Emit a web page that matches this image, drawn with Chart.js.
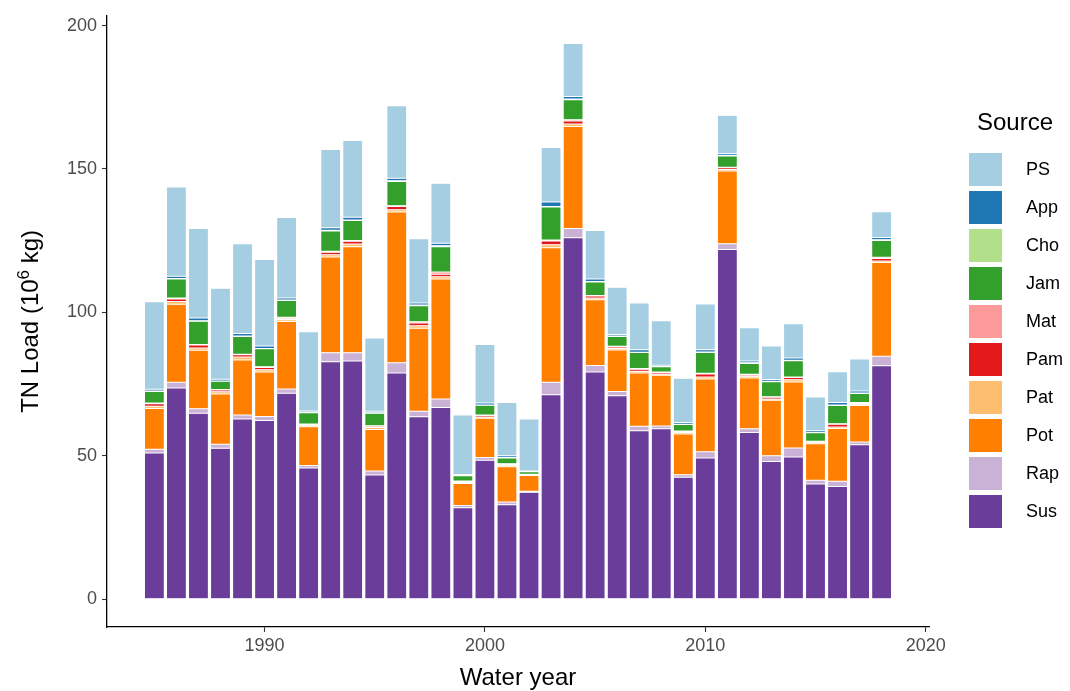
<!DOCTYPE html>
<html><head><meta charset="utf-8">
<script src="https://cdn.jsdelivr.net/npm/chart.js@4/dist/chart.umd.min.js"></script>
<style>html,body{margin:0;padding:0;background:#fff}#wrap{width:1070px;height:691px;position:relative}</style>
</head><body><div id="wrap"><canvas id="c" width="1070" height="691"></canvas></div>
<script>
const years = [1985,1986,1987,1988,1989,1990,1991,1992,1993,1994,1995,1996,1997,1998,1999,2000,2001,2002,2003,2004,2005,2006,2007,2008,2009,2010,2011,2012,2013,2014,2015,2016,2017,2018];
const sus = [51.0,73.6,64.8,52.6,62.8,62.3,71.8,45.7,82.8,83.0,43.3,78.9,63.6,66.8,31.9,48.4,32.9,37.3,71.3,126.0,79.2,70.9,58.7,59.4,42.5,49.2,121.9,58.1,48.0,49.6,40.2,39.3,53.8,81.4];
const rap = [1.3,2.0,1.6,1.4,1.4,1.4,1.5,0.9,3.1,2.9,1.4,3.5,1.9,3.0,0.8,1.0,1.0,0.3,4.3,3.2,2.3,1.5,1.6,1.0,0.9,2.2,2.0,1.3,2.0,3.1,1.3,1.8,1.0,3.3];
const pot = [14.2,27.2,20.4,17.5,19.2,15.5,23.5,13.5,33.4,37.0,14.5,52.6,29.0,41.8,7.6,13.7,12.3,5.5,46.9,35.6,22.9,14.5,18.6,17.7,14.2,25.4,25.4,17.7,19.4,23.0,12.7,18.4,12.7,32.7];
const pat = [0.8,1.0,0.8,0.8,1.0,0.8,0.6,0.5,0.8,0.9,0.7,0.8,0.8,0.8,0.4,0.4,0.5,0.3,1.1,0.9,0.6,0.5,0.6,0.4,0.5,0.7,0.5,0.6,0.4,0.8,0.5,0.5,0.5,0.5];
const pam = [0.8,0.9,1.0,0.6,0.8,0.8,0.4,0.3,0.9,1.0,0.4,1.1,1.0,0.9,0.3,0.5,0.3,0.1,1.3,1.0,0.7,0.5,0.7,0.5,0.4,1.0,0.6,0.5,0.6,0.8,0.3,1.0,0.2,0.9];
const mat = [0.3,0.3,0.2,0.2,0.2,0.2,0.5,0.2,0.3,0.3,0.2,0.3,0.4,0.8,0.2,0.2,0.2,0.1,0.3,0.5,0.2,0.3,0.2,0.2,0.1,0.3,0.2,0.2,0.2,0.2,0.1,0.2,0.4,0.4];
const jam = [4.0,6.6,8.1,2.9,6.2,6.3,5.8,3.9,7.1,6.9,4.3,8.4,5.6,8.8,1.8,3.4,2.0,0.8,11.5,6.9,4.7,3.4,5.6,1.8,2.3,7.2,3.9,3.8,5.2,5.6,2.9,6.3,3.1,5.9];
const cho = [0.2,0.2,0.2,0.1,0.2,0.1,0.2,0.2,0.2,0.2,0.2,0.3,0.3,0.3,0.1,0.1,0.2,0.1,0.2,0.3,0.2,0.2,0.1,0.1,0.1,0.2,0.2,0.2,0.2,0.2,0.1,0.2,0.2,0.2];
const app = [0.6,0.8,0.9,0.6,0.8,0.9,0.7,0.4,0.9,1.0,0.5,0.9,0.7,0.9,0.4,0.7,0.6,0.2,1.6,0.9,0.8,0.5,0.9,0.5,0.6,0.8,0.6,0.6,0.6,0.8,0.6,0.9,0.7,0.8];
const ps = [30.5,31.1,31.2,31.7,31.3,30.1,28.1,27.6,27.3,26.7,25.6,25.2,22.4,20.9,20.7,20.4,18.6,18.1,19.0,18.4,16.9,16.5,16.3,15.5,15.4,15.9,13.4,11.6,11.7,11.9,11.8,10.7,11.1,9.0];
const yTicks = [0,50,100,150,200];
const xTicks = [1990,2000,2010,2020];
const legendOrder = ['PS','App','Cho','Jam','Mat','Pam','Pat','Pot','Rap','Sus'];

const series = [
  {name:'Sus', values:sus, color:'#6A3D9A'},
  {name:'Rap', values:rap, color:'#CAB2D6'},
  {name:'Pot', values:pot, color:'#FF7F00'},
  {name:'Pat', values:pat, color:'#FDBF6F'},
  {name:'Pam', values:pam, color:'#E31A1C'},
  {name:'Mat', values:mat, color:'#FB9A99'},
  {name:'Jam', values:jam, color:'#33A02C'},
  {name:'Cho', values:cho, color:'#B2DF8A'},
  {name:'App', values:app, color:'#1F78B4'},
  {name:'PS',  values:ps,  color:'#A6CEE3'}
];

const datasets = series.map(s => ({
  label: s.name,
  data: years.map((yr, i) => ({x: yr, y: s.values[i]})),
  backgroundColor: s.color,
  borderColor: '#ffffff',
  borderWidth: 0.5,
  borderSkipped: false,
  barPercentage: 0.9,
  categoryPercentage: 1.0
}));

const FONT = "'Liberation Sans', Arial, sans-serif";

const decor = {
  id: 'decor',
  afterDraw(chart) {
    const ctx = chart.ctx;
    const ca = chart.chartArea;
    ctx.save();
    // x title
    ctx.fillStyle = '#000';
    ctx.font = '24px ' + FONT;
    ctx.textAlign = 'center';
    ctx.textBaseline = 'middle';
    ctx.fillText('Water year', (ca.left + ca.right) / 2, 678);
    // y title with superscript
    ctx.save();
    ctx.translate(30, (ca.top + ca.bottom) / 2);
    ctx.rotate(-Math.PI / 2);
    const p1 = 'TN Load (10', p2 = '6', p3 = ' kg)';
    ctx.font = '24px ' + FONT;
    const w1 = ctx.measureText(p1).width, w3 = ctx.measureText(p3).width;
    ctx.font = '17px ' + FONT;
    const w2 = ctx.measureText(p2).width;
    const total = w1 + w2 + w3;
    let x0 = -total / 2;
    ctx.textAlign = 'left';
    ctx.textBaseline = 'alphabetic';
    ctx.font = '24px ' + FONT;
    ctx.fillText(p1, x0, 8);
    ctx.font = '17px ' + FONT;
    ctx.fillText(p2, x0 + w1, -1);
    ctx.font = '24px ' + FONT;
    ctx.fillText(p3, x0 + w1 + w2, 8);
    ctx.restore();
    // legend
    ctx.fillStyle = '#000';
    ctx.font = '24px ' + FONT;
    ctx.textAlign = 'left';
    ctx.textBaseline = 'middle';
    ctx.fillText('Source', 977, 123);
    const colorOf = {};
    series.forEach(s => colorOf[s.name] = s.color);
    legendOrder.forEach((name, i) => {
      const top = 152 + i * 38;
      ctx.fillStyle = colorOf[name];
      ctx.fillRect(968, top, 35, 35);
      ctx.strokeStyle = '#ffffff';
      ctx.lineWidth = 1;
      ctx.strokeRect(968.5, top + 0.5, 34, 34);
      ctx.fillStyle = '#000';
      ctx.font = '18px ' + FONT;
      ctx.fillText(name, 1026, top + 18);
    });
    ctx.restore();
  }
};

new Chart(document.getElementById('c'), {
  type: 'bar',
  data: { datasets },
  options: {
    responsive: false,
    animation: false,
    devicePixelRatio: 1,
    layout: { padding: { left: 0, right: 141, top: 9, bottom: 0 } },
    plugins: { legend: { display: false }, tooltip: { enabled: false } },
    scales: {
      x: {
        type: 'linear',
        stacked: true,
        offset: false,
        min: 1982.85,
        max: 2020.15,
        afterBuildTicks: (s) => { s.ticks = xTicks.map(v => ({value: v})); },
        afterFit: (s) => { s.height = 64; },
        grid: { display: true, drawOnChartArea: false, drawTicks: true, tickLength: 5, tickColor: '#333333', tickWidth: 1.1, offset: false },
        border: { display: true, color: '#000000', width: 1.3 },
        ticks: { color: '#4D4D4D', font: { size: 18, family: FONT }, padding: 3, maxRotation: 0, autoSkip: false, callback: v => String(v) }
      },
      y: {
        stacked: true,
        min: -9.7,
        max: 203.4,
        afterBuildTicks: (s) => { s.ticks = yTicks.map(v => ({value: v})); },
        afterFit: (s) => { s.width = 107; },
        grid: { display: true, drawOnChartArea: false, drawTicks: true, tickLength: 5, tickColor: '#333333', tickWidth: 1.1 },
        border: { display: true, color: '#000000', width: 1.3 },
        ticks: { color: '#4D4D4D', font: { size: 18, family: FONT }, padding: 5, autoSkip: false }
      }
    }
  },
  plugins: [decor]
});
</script>
</body></html>
